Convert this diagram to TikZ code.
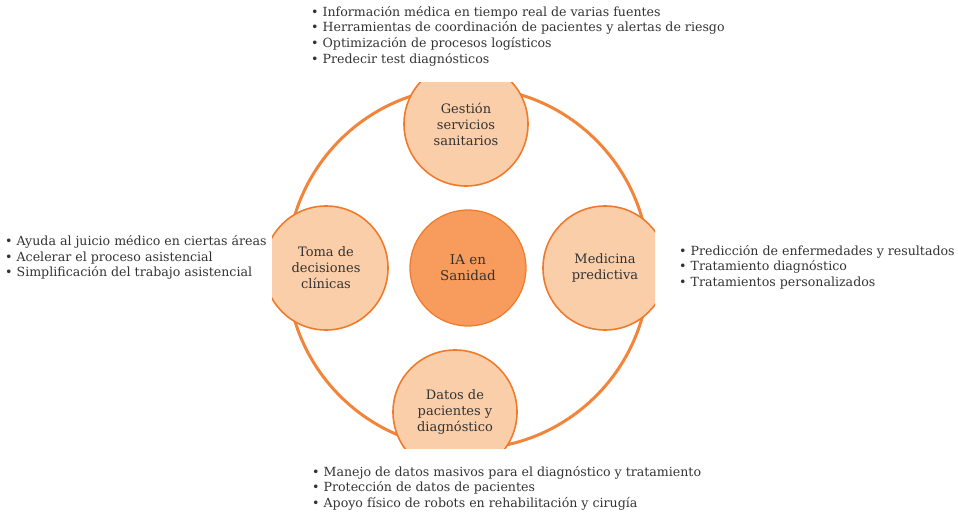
\documentclass[tikz,border=0pt]{standalone}
\usepackage{fontspec}
\setmainfont{DejaVu Serif}
\definecolor{ringc}{HTML}{F2853A}
\definecolor{satfill}{HTML}{FBCEAA}
\definecolor{satline}{HTML}{F07A2A}
\definecolor{cenfill}{HTML}{F79C5C}
\definecolor{txt}{HTML}{333333}
\tikzset{
  sat/.style={circle, draw=satline, line width=1.6pt, fill=satfill, minimum size=124pt, inner sep=0pt, align=center, text=txt, font=\fontsize{13}{16}\selectfont},
  cen/.style={circle, draw=satline, line width=1.2pt, fill=cenfill, minimum size=116pt, inner sep=0pt, align=center, text=txt, font=\fontsize{13.5}{16}\selectfont},
  blist/.style={align=left, inner sep=0pt, text=txt, font=\fontsize{12.6}{15.6}\selectfont},
}
\begin{document}
\begin{tikzpicture}[x=1pt,y=-1pt]
\useasboundingbox (0,0) rectangle (958,516);
\begin{scope}
  \clip (272,83) rectangle (655,448);
  \node[cen] (c) at (468,268) {IA en\\Sanidad};
  \draw[ringc, line width=3pt] (c.center) circle (181pt);
  \node[sat] (top) at (466,124) {Gestión\\servicios\\sanitarios};
  \node[sat] (left) at (326,268) {Toma de\\decisiones\\clínicas};
  \node[sat] (right) at (605,268) {Medicina\\predictiva};
  \node[sat] (bot) at (455,412) {Datos de\\pacientes y\\diagnóstico};
\end{scope}
\node[blist, anchor=north west] (ltop) at (311,6) {\textbullet\ Información médica en tiempo real de varias fuentes\\\textbullet\ Herramientas de coordinación de pacientes y alertas de riesgo\\\textbullet\ Optimización de procesos logísticos\\\textbullet\ Predecir test diagnósticos};
\node[blist, anchor=north west] (lleft) at (5,235.5) {\textbullet\ Ayuda al juicio médico en ciertas áreas\\\textbullet\ Acelerar el proceso asistencial\\\textbullet\ Simplificación del trabajo asistencial};
\node[blist, anchor=north west] (lright) at (679,245) {\textbullet\ Predicción de enfermedades y resultados\\\textbullet\ Tratamiento diagnóstico\\\textbullet\ Tratamientos personalizados};
\node[blist, anchor=north west] (lbot) at (312,466) {\textbullet\ Manejo de datos masivos para el diagnóstico y tratamiento\\\textbullet\ Protección de datos de pacientes\\\textbullet\ Apoyo físico de robots en rehabilitación y cirugía};
\end{tikzpicture}
\end{document}
